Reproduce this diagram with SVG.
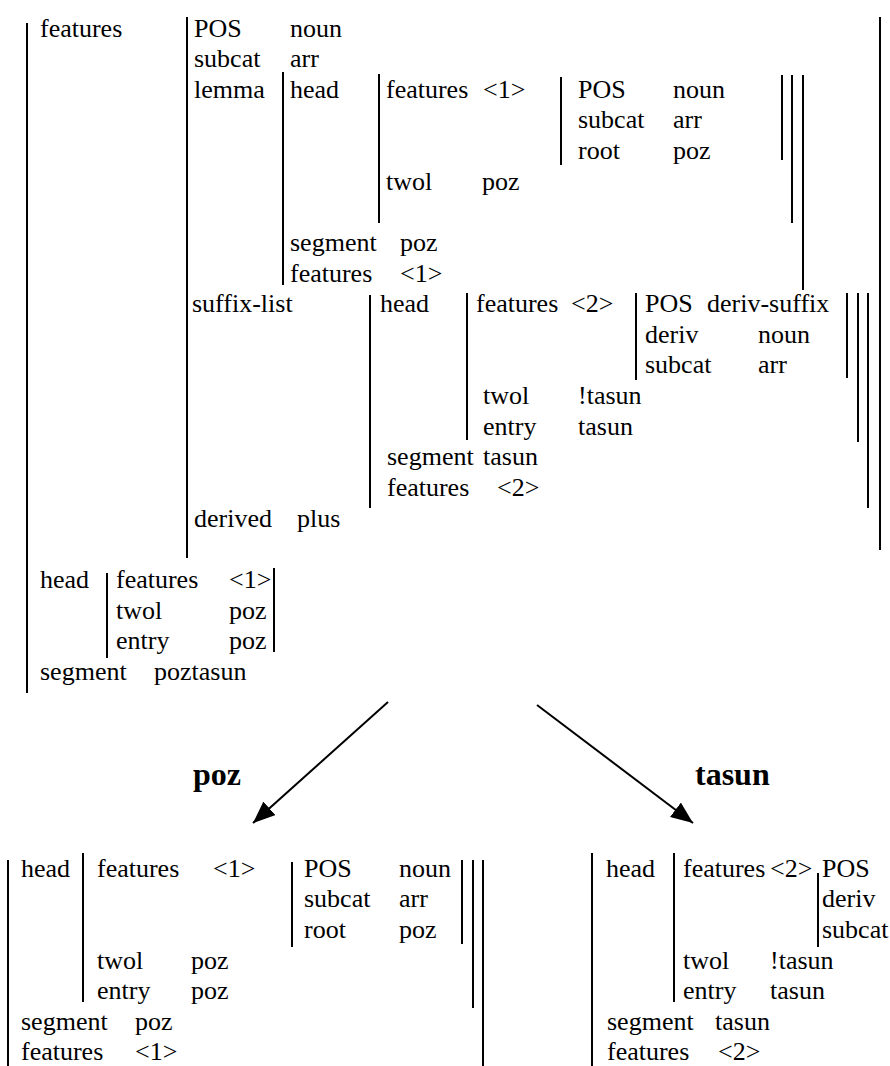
<svg xmlns="http://www.w3.org/2000/svg" width="890" height="1066" viewBox="0 0 890 1066">
<style>
text{font-family:"Liberation Serif","Times New Roman",serif;font-size:26px;fill:#000}
.b{font-weight:bold;font-size:32px}
.l{stroke:#000;stroke-width:2;fill:none}
</style>
<defs>
<marker id="ah" viewBox="0 0 22 18" refX="22" refY="9" markerWidth="22" markerHeight="18" markerUnits="userSpaceOnUse" orient="auto">
<path d="M0,0 L22,9 L0,18 Z" fill="#000"/>
</marker>
</defs>
<rect width="890" height="1066" fill="#fff"/>

<g id="top-avm">
<path class="l" d="M27,23V693 M880,17V550 M187,17V558"/>
<text x="40" y="37">features</text>
<text x="194" y="37">POS</text><text x="290" y="37">noun</text>
<text x="194" y="67">subcat</text><text x="290" y="67">arr</text>
<text x="194" y="98">lemma</text>
<g id="lemma">
<path class="l" d="M283,72V285 M379,74V223 M561,77V165 M782,75V160 M792,75V223 M803,75V290"/>
<text x="290" y="98">head</text>
<text x="386" y="98">features</text><text x="483" y="98">&lt;1&gt;</text>
<text x="578" y="98">POS</text><text x="673" y="98">noun</text>
<text x="578" y="128">subcat</text><text x="673" y="128">arr</text>
<text x="578" y="159">root</text><text x="673" y="159">poz</text>
<text x="386" y="190">twol</text><text x="482" y="190">poz</text>
<text x="290" y="251">segment</text><text x="400" y="251">poz</text>
<text x="290" y="282">features</text><text x="400" y="282">&lt;1&gt;</text>
</g>
<text x="192" y="312">suffix-list</text>
<g id="suffix-list">
<path class="l" d="M370,295V508 M467,293V440 M636,293V380 M847,293V378 M858,293V442 M868,293V508"/>
<text x="380" y="312">head</text>
<text x="476" y="312">features</text><text x="571" y="312">&lt;2&gt;</text>
<text x="645" y="312">POS</text><text x="707" y="312">deriv-suffix</text>
<text x="645" y="343">deriv</text><text x="758" y="343">noun</text>
<text x="645" y="373">subcat</text><text x="758" y="373">arr</text>
<text x="483" y="404">twol</text><text x="578" y="404">!tasun</text>
<text x="483" y="435">entry</text><text x="578" y="435">tasun</text>
<text x="387" y="465">segment</text><text x="483" y="465">tasun</text>
<text x="387" y="496">features</text><text x="497" y="496">&lt;2&gt;</text>
</g>
<text x="194" y="527">derived</text><text x="297" y="527">plus</text>
<g id="top-head">
<path class="l" d="M107,573V658 M274,568V652"/>
<text x="40" y="588">head</text>
<text x="116" y="588">features</text><text x="229" y="588">&lt;1&gt;</text>
<text x="116" y="619">twol</text><text x="229" y="619">poz</text>
<text x="116" y="649">entry</text><text x="229" y="649">poz</text>
</g>
<text x="40" y="680">segment</text><text x="154" y="680">poztasun</text>
</g>

<g id="connectors">
<line class="l" x1="388" y1="702" x2="253" y2="823" marker-end="url(#ah)"/>
<line class="l" x1="537" y1="705" x2="693" y2="823" marker-end="url(#ah)"/>
<text class="b" x="193" y="785">poz</text>
<text class="b" x="695" y="785">tasun</text>
</g>

<g id="bottom-left">
<path class="l" d="M8,860V1066 M83,853V1002 M292,862V947 M462,860V944 M473,860V1008 M483,860V1066"/>
<text x="21" y="877">head</text>
<text x="97" y="877">features</text><text x="213" y="877">&lt;1&gt;</text>
<text x="304" y="877">POS</text><text x="399" y="877">noun</text>
<text x="304" y="907">subcat</text><text x="399" y="907">arr</text>
<text x="304" y="938">root</text><text x="399" y="938">poz</text>
<text x="97" y="969">twol</text><text x="191" y="969">poz</text>
<text x="97" y="999">entry</text><text x="191" y="999">poz</text>
<text x="21" y="1030">segment</text><text x="135" y="1030">poz</text>
<text x="21" y="1060">features</text><text x="135" y="1060">&lt;1&gt;</text>
</g>

<g id="bottom-right">
<path class="l" d="M592,853V1066 M674,853V1002 M818,873V947"/>
<text x="606" y="877">head</text>
<text x="683" y="877">features</text><text x="770" y="877">&lt;2&gt;</text>
<text x="822" y="877">POS</text>
<text x="822" y="907">deriv</text>
<text x="822" y="938">subcat</text>
<text x="683" y="969">twol</text><text x="770" y="969">!tasun</text>
<text x="683" y="999">entry</text><text x="770" y="999">tasun</text>
<text x="607" y="1030">segment</text><text x="715" y="1030">tasun</text>
<text x="607" y="1060">features</text><text x="718" y="1060">&lt;2&gt;</text>
</g>
</svg>
